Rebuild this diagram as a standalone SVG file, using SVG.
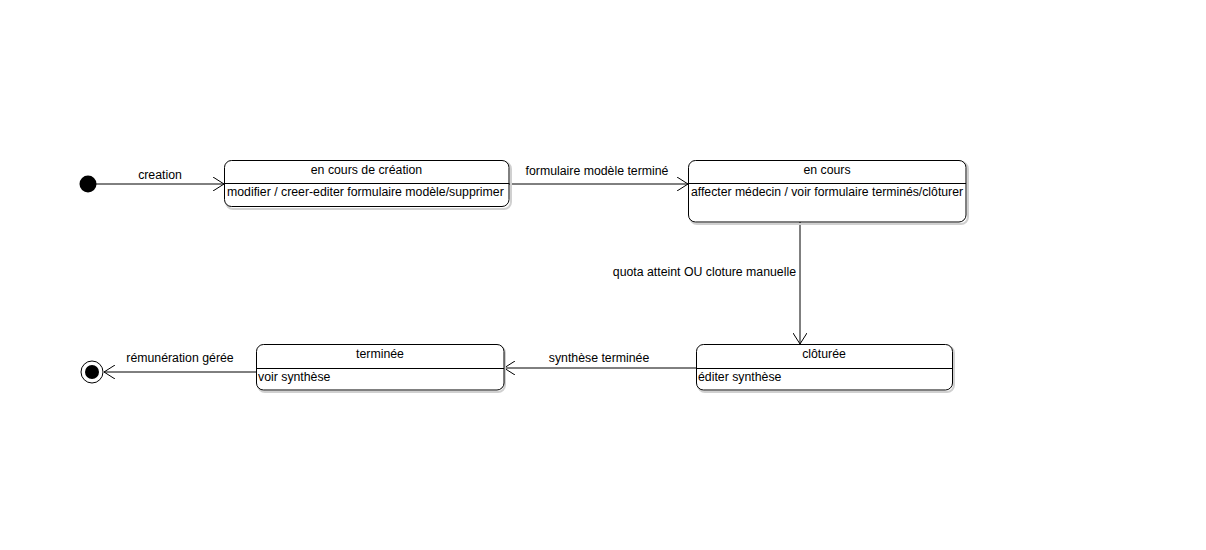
<svg xmlns="http://www.w3.org/2000/svg" width="1206" height="550" viewBox="0 0 1206 550">
  <defs>
    <marker id="open" markerWidth="12" markerHeight="14" refX="11" refY="7" orient="auto" markerUnits="userSpaceOnUse">
      <path d="M0,0 L11,7 L0,14" fill="none" stroke="#000" stroke-width="1"/>
    </marker>
  </defs>
  <style>
    text { font-family: "Liberation Sans", Arial, sans-serif; font-size: 12.3px; fill: #000; }
    .state { fill: #fff; stroke: #000; stroke-width: 1; }
    .shadow { fill: none; stroke: #d0d0d0; stroke-width: 2; }
    .div { stroke: #000; stroke-width: 1; }
    .edge { stroke: #000; stroke-width: 1; fill: none; marker-end: url(#open); }
    .title { text-anchor: middle; }
  </style>
  <rect width="1206" height="550" fill="#fff"/>

  <g id="connectors">
    <line class="edge" x1="96" y1="184" x2="224" y2="184"/>
    <line class="edge" x1="509" y1="184" x2="688" y2="184"/>
    <line class="edge" x1="800" y1="222" x2="800" y2="344"/>
    <line class="edge" x1="696" y1="368" x2="504" y2="368"/>
    <line class="edge" x1="256" y1="372" x2="104" y2="372"/>
    <text x="160" y="179" class="title">creation</text>
    <text x="597" y="175" class="title">formulaire modèle terminé</text>
    <text x="796" y="276" text-anchor="end">quota atteint OU cloture manuelle</text>
    <text x="599" y="362" class="title">synthèse terminée</text>
    <text x="180" y="362" class="title">rémunération gérée</text>
  </g>

  <g id="initial">
    <circle cx="88" cy="184" r="8.5" fill="#000"/>
  </g>

  <g id="final">
    <circle cx="92" cy="372" r="11" fill="#fff" stroke="#000" stroke-width="1"/>
    <circle cx="92" cy="372" r="7" fill="#000"/>
  </g>

  <g id="en-cours-de-creation">
    <rect class="shadow" x="226" y="162" width="285" height="47" rx="7"/>
    <rect class="state" x="224.5" y="160.5" width="284.5" height="46" rx="7"/>
    <line class="div" x1="224.5" y1="183.5" x2="509" y2="183.5"/>
    <text x="366.5" y="174" class="title">en cours de création</text>
    <text x="227" y="196">modifier / creer-editer formulaire modèle/supprimer</text>
  </g>

  <g id="en-cours">
    <rect class="shadow" x="690" y="162" width="278" height="62" rx="7"/>
    <rect class="state" x="688.5" y="160.5" width="277.5" height="61.5" rx="7"/>
    <line class="div" x1="688.5" y1="183.5" x2="966" y2="183.5"/>
    <text x="827" y="174" class="title">en cours</text>
    <text x="691" y="196" textLength="272" lengthAdjust="spacingAndGlyphs">affecter médecin / voir formulaire terminés/clôturer</text>
  </g>

  <g id="cloturee">
    <rect class="shadow" x="698" y="346" width="256" height="46" rx="7"/>
    <rect class="state" x="696.5" y="344.5" width="256" height="45.5" rx="7"/>
    <line class="div" x1="696.5" y1="368.5" x2="952.5" y2="368.5"/>
    <text x="824" y="358" class="title">clôturée</text>
    <text x="698" y="381">éditer synthèse</text>
  </g>

  <g id="terminee">
    <rect class="shadow" x="258" y="346" width="247" height="46" rx="7"/>
    <rect class="state" x="256.5" y="344.5" width="247.5" height="45.5" rx="7"/>
    <line class="div" x1="256.5" y1="368.5" x2="504" y2="368.5"/>
    <text x="380" y="358" class="title">terminée</text>
    <text x="258" y="381">voir synthèse</text>
  </g>
</svg>
